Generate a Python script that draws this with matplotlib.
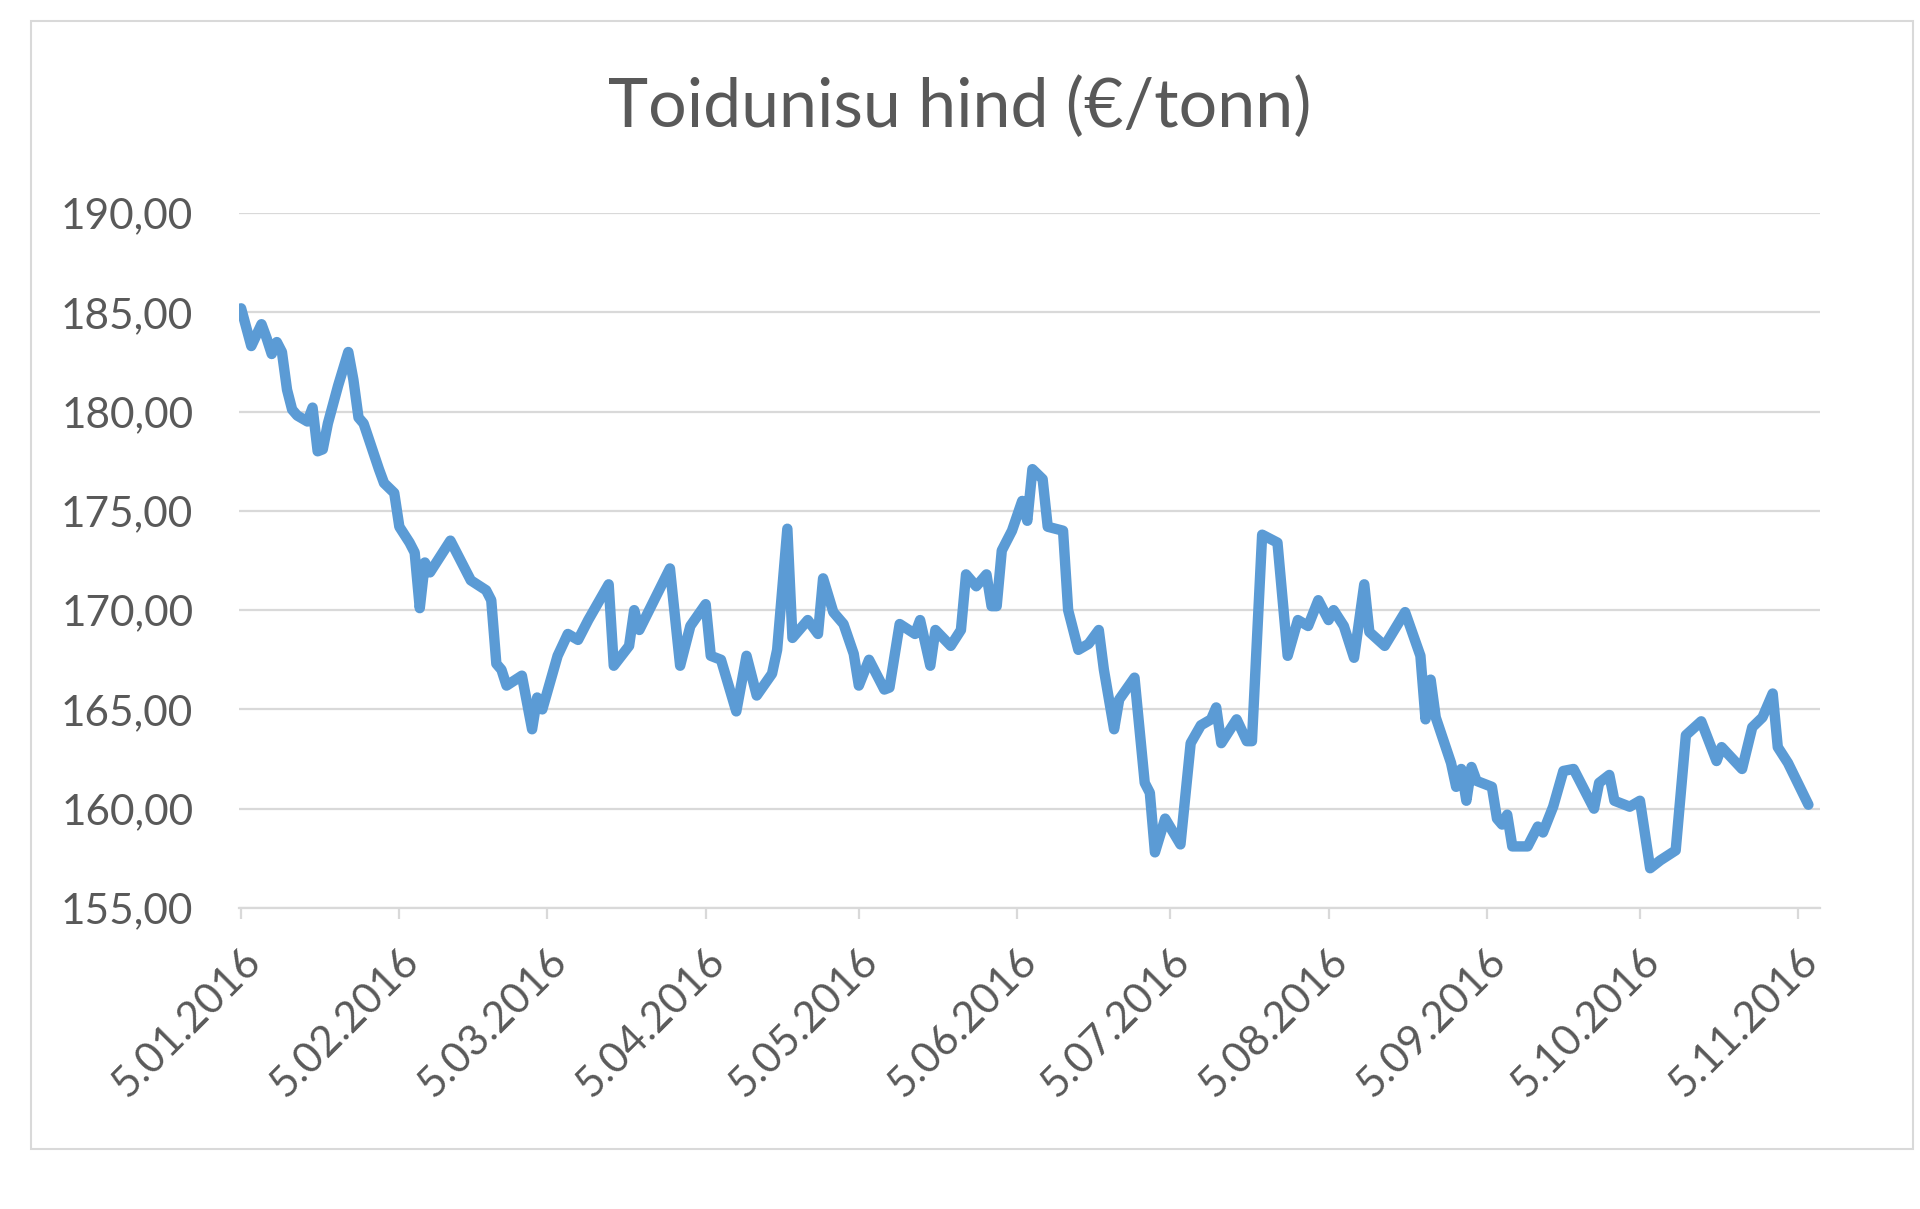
"""
Toidunisu hind (EUR/tonn), 2016 - line chart in Excel style
"""

import pandas as pd
import matplotlib
matplotlib.use("Agg")
import matplotlib.pyplot as plt
import matplotlib.dates as mdates
from matplotlib.ticker import FuncFormatter
from matplotlib.patches import Rectangle

# Data
START_DATE = "2016-01-05"
day_offset = [0, 2, 4, 5, 6, 7, 8, 9, 10, 11, 13, 14, 15, 16, 17, 19, 21, 22, 23, 24,
              27, 28, 30, 31, 33, 34, 35, 36, 37, 41, 43, 44, 45, 48, 49, 50, 51, 52, 55, 57,
              58, 59, 62, 64, 66, 68, 72, 73, 76, 77, 78, 84, 86, 88, 91, 92, 94, 97, 99, 101,
              104, 105, 107, 108, 111, 113, 114, 116, 118, 120, 121, 123, 126, 127, 129, 132, 133, 135, 136, 139,
              141, 142, 144, 146, 147, 148, 149, 151, 153, 154, 155, 157, 158, 161, 162, 164, 166, 168, 169, 171,
              172, 175, 177, 178, 179, 181, 184, 186, 188, 190, 191, 192, 195, 197, 198, 200, 203, 205, 207, 209,
              211, 213, 214, 216, 218, 220, 221, 224, 228, 231, 232, 233, 234, 237, 238, 239, 240, 241, 242, 245,
              246, 247, 248, 249, 252, 254, 255, 257, 259, 261, 263, 265, 266, 268, 269, 272, 274, 276, 278, 281,
              282, 283, 286, 289, 290, 294, 296, 298, 300, 301, 303, 307]
price = [185.2, 183.3, 184.4, 183.7, 182.9, 183.5, 183.0, 181.1, 180.1, 179.8, 179.5, 180.2, 178.0, 178.1, 179.4, 181.3, 183.0, 181.6, 179.7, 179.4,
         177.1, 176.4, 175.9, 174.2, 173.4, 172.9, 170.1, 172.4, 171.9, 173.5, 172.5, 172.0, 171.5, 171.0, 170.5, 167.3, 167.0, 166.2, 166.7, 164.0,
         165.6, 165.0, 167.7, 168.8, 168.5, 169.5, 171.3, 167.2, 168.2, 170.0, 169.0, 172.1, 167.2, 169.2, 170.3, 167.7, 167.5, 164.9, 167.7, 165.7,
         166.8, 168.0, 174.1, 168.6, 169.5, 168.8, 171.6, 169.9, 169.3, 167.8, 166.2, 167.5, 166.0, 166.1, 169.3, 168.8, 169.5, 167.2, 169.0, 168.2,
         169.0, 171.8, 171.2, 171.8, 170.2, 170.2, 173.0, 174.0, 175.5, 174.5, 177.1, 176.6, 174.2, 174.0, 170.0, 168.0, 168.3, 169.0, 167.0, 164.0,
         165.5, 166.6, 161.3, 160.8, 157.8, 159.5, 158.2, 163.3, 164.2, 164.5, 165.1, 163.3, 164.5, 163.4, 163.4, 173.8, 173.4, 167.7, 169.5, 169.2,
         170.5, 169.5, 170.0, 169.2, 167.6, 171.3, 168.9, 168.2, 169.9, 167.7, 164.5, 166.5, 164.6, 162.3, 161.1, 162.0, 160.4, 162.1, 161.4, 161.1,
         159.5, 159.2, 159.7, 158.1, 158.1, 159.1, 158.8, 160.1, 161.9, 162.0, 161.0, 160.0, 161.3, 161.7, 160.4, 160.1, 160.4, 157.0, 157.4, 157.9,
         160.8, 163.7, 164.4, 162.4, 163.1, 162.0, 164.1, 164.6, 165.8, 163.1, 162.3, 160.2]
y_ticks = [155, 160, 165, 170, 175, 180, 185, 190]
TITLE = "Toidunisu hind (€/tonn)"

assert len(day_offset) == len(price)

TEXT_COLOR = "#595959"
GRID_COLOR = "#D9D9D9"
LINE_COLOR = "#5B9BD5"

plt.rcParams["font.family"] = ["Lato", "DejaVu Sans"]


def main():
    start = pd.Timestamp(START_DATE)
    dates = start + pd.to_timedelta(day_offset, unit="D")

    fig = plt.figure(figsize=(19.2, 12.09), dpi=100)
    ax = fig.add_axes([0.1245, 0.249, 0.8235, 0.5748])

    # outer chart border
    fig.patches.append(Rectangle((31 / 1920, 1 - 1149 / 1209), 1882 / 1920, 1128 / 1209,
                                 transform=fig.transFigure, fill=False,
                                 edgecolor=GRID_COLOR, linewidth=1.5, zorder=0))

    ax.plot(dates, price, color=LINE_COLOR, linewidth=7.5,
            solid_joinstyle="round", solid_capstyle="round", zorder=3)

    ax.set_ylim(155, 190)
    ax.set_yticks(y_ticks)
    ax.yaxis.set_major_formatter(FuncFormatter(lambda v, _: f"{v:.2f}".replace(".", ",")))
    ax.set_xlim(start - pd.Timedelta(days=0.4), start + pd.Timedelta(days=309.3))

    ax.xaxis.set_major_locator(mdates.MonthLocator(bymonthday=5))
    ax.xaxis.set_major_formatter(FuncFormatter(
        lambda v, _: (lambda d: f"{d.day}.{d.month:02d}.{d.year}")(mdates.num2date(v))))

    ax.grid(axis="y", color=GRID_COLOR, linewidth=1.6, zorder=1)
    for side in ("top", "right", "left"):
        ax.spines[side].set_visible(False)
    ax.spines["bottom"].set_color(GRID_COLOR)
    ax.spines["bottom"].set_linewidth(1.6)

    ax.tick_params(axis="y", length=0, pad=33, labelsize=30.5, labelcolor=TEXT_COLOR)
    ax.tick_params(axis="x", length=8, width=1.6, color=GRID_COLOR, pad=16,
                   labelsize=30.5, labelcolor=TEXT_COLOR)
    for lbl in ax.get_xticklabels():
        lbl.set_rotation(45)
        lbl.set_ha("right")
        lbl.set_rotation_mode("anchor")

    fig.text(0.5, 1 - 108 / 1209, TITLE, ha="center", va="center",
             fontsize=49, color=TEXT_COLOR)

    fig.savefig("out.png", dpi=100, facecolor="white")


if __name__ == "__main__":
    main()
